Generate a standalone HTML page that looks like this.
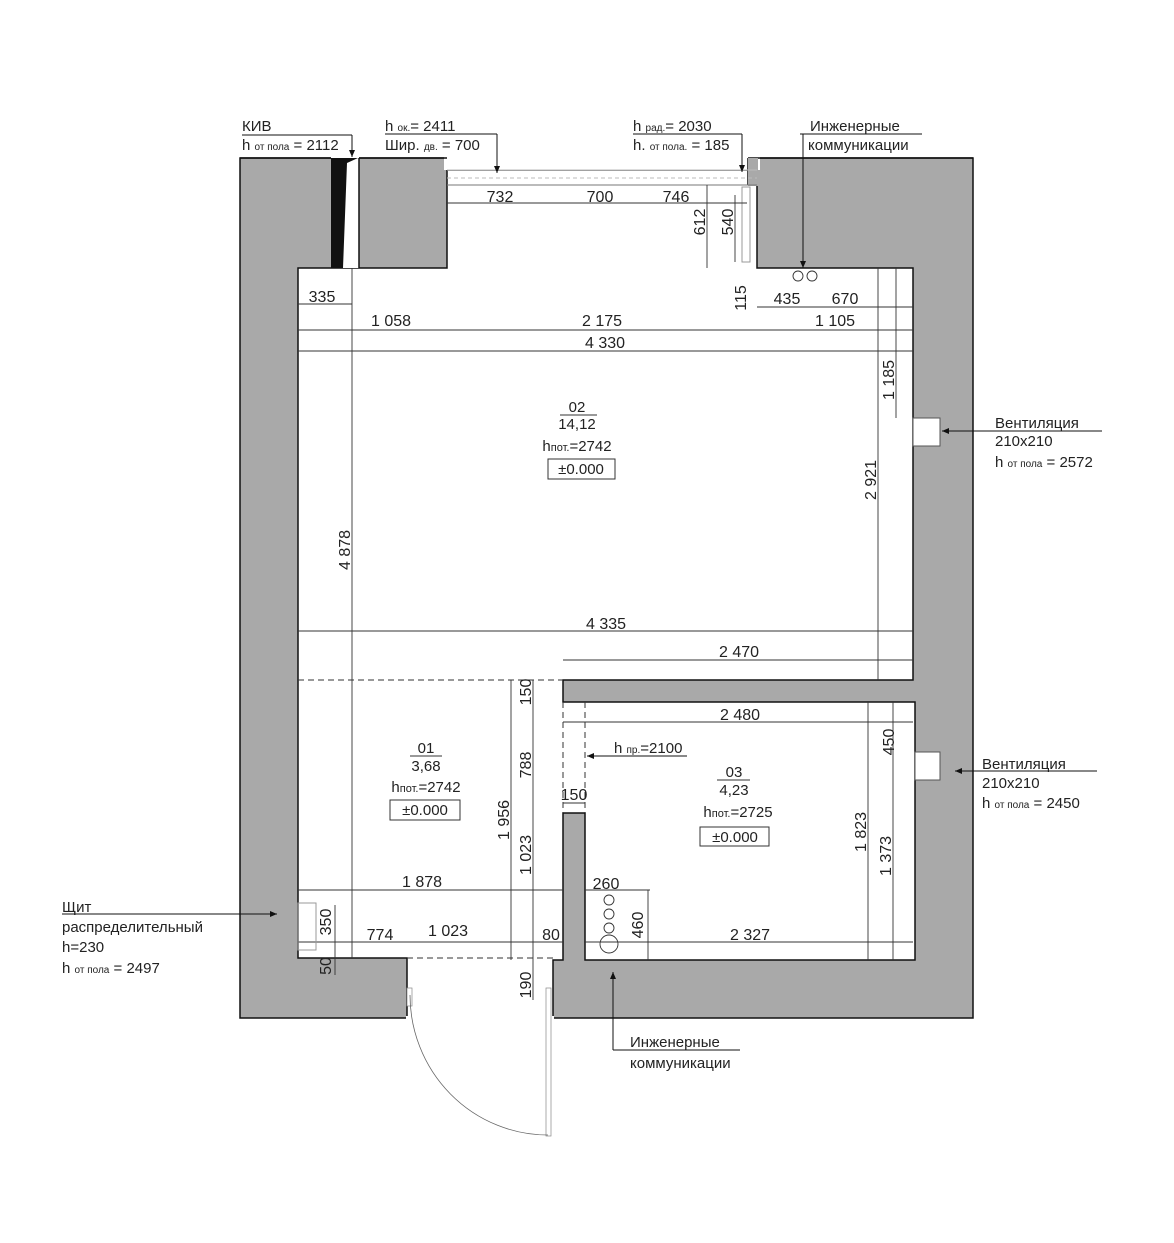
<!DOCTYPE html>
<html><head><meta charset="utf-8"><style>
html,body{margin:0;padding:0;background:#fff;}
svg{display:block;}
text{font-family:"Liberation Sans",sans-serif;fill:#222;}
.d{font-size:16px;text-anchor:middle;}
.l{font-size:15px;}
.s{font-size:10px;}
.dl{stroke:#333;stroke-width:0.9;fill:none;}
</style></head><body>
<svg width="1174" height="1243" viewBox="0 0 1174 1243" xmlns="http://www.w3.org/2000/svg">
<defs><marker id="ar" markerWidth="8" markerHeight="8" refX="7" refY="4" orient="auto"><path d="M0,1 L7,4 L0,7 z" fill="#111"/></marker></defs>
<!-- walls -->
<rect x="240" y="158" width="733" height="860" fill="#a9a9a9" stroke="#111" stroke-width="1.5"/>
<path d="M298,268 L447,268 L447,170 L757,170 L757,268 L913,268 L913,680 L563,680 L563,702 L915,702 L915,960 L585,960 L585,813 L563,813 L563,960 L553,960 L553,1020 L407,1020 L407,958 L298,958 Z" fill="#fff" stroke="#111" stroke-width="1.5"/>
<rect x="444" y="150" width="316" height="20" fill="#fff"/>
<rect x="406" y="1016" width="148" height="6" fill="#fff"/>
<!-- KIV shaft -->
<rect x="331" y="157" width="28" height="111" fill="#fff"/>
<path d="M331,158 L358,158 L347,163 L343,268 L331,268 Z" fill="#111"/>
<line x1="240" y1="158" x2="331" y2="158" stroke="#111" stroke-width="1.5"/>
<line x1="359" y1="158" x2="447" y2="158" stroke="#111" stroke-width="1.5"/>
<line x1="359" y1="158" x2="359" y2="268" stroke="#111" stroke-width="1.5"/>
<line x1="748" y1="158" x2="973" y2="158" stroke="#111" stroke-width="1.5"/>
<line x1="748" y1="158" x2="748" y2="185" stroke="#111" stroke-width="1.5"/>
<rect x="748" y="158" width="10" height="28" fill="#a9a9a9"/>
<!-- window -->
<line x1="447" y1="170" x2="757" y2="170" stroke="#bbb"/>
<line x1="447" y1="185" x2="757" y2="185" stroke="#777"/>
<line x1="447" y1="178" x2="757" y2="178" stroke="#bbb" stroke-dasharray="4 3"/>
<rect x="742" y="187" width="8" height="75" fill="none" stroke="#999"/>
<!-- vent niches -->
<rect x="913" y="418" width="27" height="28" fill="#fff" stroke="#555"/>
<rect x="915" y="752" width="25" height="28" fill="#fff" stroke="#555"/>
<!-- dashed lines -->
<line x1="298" y1="680" x2="563" y2="680" stroke="#333" stroke-dasharray="6 4"/>
<line x1="407" y1="958" x2="553" y2="958" stroke="#333" stroke-dasharray="6 4"/>
<line x1="563" y1="702" x2="563" y2="813" stroke="#333" stroke-dasharray="6 4"/>
<line x1="585" y1="702" x2="585" y2="813" stroke="#333" stroke-dasharray="6 4"/>
<!-- door -->
<rect x="407" y="988" width="5" height="18" fill="#fff" stroke="#888" stroke-width="0.7"/>
<rect x="546" y="988" width="5" height="148" fill="#fff" stroke="#888" stroke-width="0.7"/>
<path d="M410,995 A138,140 0 0 0 548,1135" fill="none" stroke="#666" stroke-width="0.8"/>
<!-- dimension lines -->
<g class="dl">
<line x1="447" y1="203" x2="747" y2="203"/>
<line x1="707" y1="185" x2="707" y2="268"/>
<line x1="735" y1="195" x2="735" y2="262"/>
<line x1="298" y1="304" x2="352" y2="304"/>
<line x1="757" y1="307" x2="913" y2="307"/>
<line x1="298" y1="330" x2="913" y2="330"/>
<line x1="298" y1="351" x2="913" y2="351"/>
<line x1="352" y1="268" x2="352" y2="958"/>
<line x1="896" y1="268" x2="896" y2="418"/>
<line x1="878" y1="268" x2="878" y2="680"/>
<line x1="298" y1="631" x2="913" y2="631"/>
<line x1="563" y1="660" x2="913" y2="660"/>
<line x1="563" y1="722" x2="913" y2="722"/>
<line x1="893" y1="702" x2="893" y2="960"/>
<line x1="868" y1="702" x2="868" y2="960"/>
<line x1="563" y1="803" x2="585" y2="803"/>
<line x1="533" y1="680" x2="533" y2="1000"/>
<line x1="511" y1="680" x2="511" y2="960"/>
<line x1="298" y1="890" x2="563" y2="890"/>
<line x1="298" y1="942" x2="563" y2="942"/>
<line x1="335" y1="905" x2="335" y2="975"/>
<line x1="585" y1="890" x2="650" y2="890"/>
<line x1="648" y1="890" x2="648" y2="960"/>
<line x1="585" y1="942" x2="913" y2="942"/>
</g>
<rect x="298" y="903" width="18" height="47" fill="none" stroke="#999"/>
<!-- circles -->
<g fill="none" stroke="#333" stroke-width="0.9">
<circle cx="798" cy="276" r="5"/><circle cx="812" cy="276" r="5"/>
<circle cx="609" cy="900" r="5"/><circle cx="609" cy="914" r="5"/><circle cx="609" cy="928" r="5"/><circle cx="609" cy="944" r="9"/>
</g>
<!-- dim texts -->
<g class="d">
<text x="500" y="202">732</text><text x="600" y="202">700</text><text x="676" y="202">746</text>
<text transform="translate(705,222) rotate(-90)">612</text>
<text transform="translate(733,222) rotate(-90)">540</text>
<text x="322" y="302">335</text>
<text transform="translate(746,298) rotate(-90)">115</text>
<text x="787" y="304">435</text><text x="845" y="304">670</text>
<text x="391" y="326">1 058</text><text x="602" y="326">2 175</text><text x="835" y="326">1 105</text>
<text x="605" y="348">4 330</text>
<text transform="translate(350,550) rotate(-90)">4 878</text>
<text transform="translate(894,380) rotate(-90)">1 185</text>
<text transform="translate(876,480) rotate(-90)">2 921</text>
<text x="606" y="629">4 335</text>
<text x="739" y="657">2 470</text>
<text x="740" y="720">2 480</text>
<text transform="translate(894,742) rotate(-90)">450</text>
<text transform="translate(866,832) rotate(-90)">1 823</text>
<text transform="translate(891,856) rotate(-90)">1 373</text>
<text x="574" y="800">150</text>
<text transform="translate(531,692) rotate(-90)">150</text>
<text transform="translate(531,765) rotate(-90)">788</text>
<text transform="translate(531,855) rotate(-90)">1 023</text>
<text transform="translate(509,820) rotate(-90)">1 956</text>
<text transform="translate(531,985) rotate(-90)">190</text>
<text x="422" y="887">1 878</text>
<text x="380" y="940">774</text><text x="448" y="936">1 023</text><text x="551" y="940">80</text>
<text transform="translate(331,922) rotate(-90)">350</text>
<text transform="translate(331,966) rotate(-90)">50</text>
<text x="606" y="889">260</text>
<text transform="translate(643,925) rotate(-90)">460</text>
<text x="750" y="940">2 327</text>
</g>
<!-- room labels -->
<g class="d" style="font-size:15px">
<text x="577" y="412">02</text><line x1="560" y1="415" x2="597" y2="415" stroke="#333"/>
<text x="577" y="429">14,12</text>
<text x="577" y="451">h<tspan font-size="11">пот.</tspan>=2742</text>
<rect x="548" y="459" width="67" height="20" fill="none" stroke="#333"/><text x="581" y="474">±0.000</text>
<text x="426" y="753">01</text><line x1="410" y1="756" x2="442" y2="756" stroke="#333"/>
<text x="426" y="771">3,68</text>
<text x="426" y="792">h<tspan font-size="11">пот.</tspan>=2742</text>
<rect x="390" y="800" width="70" height="20" fill="none" stroke="#333"/><text x="425" y="815">±0.000</text>
<text x="734" y="777">03</text><line x1="717" y1="780" x2="750" y2="780" stroke="#333"/>
<text x="734" y="795">4,23</text>
<text x="738" y="817">h<tspan font-size="11">пот.</tspan>=2725</text>
<rect x="700" y="827" width="69" height="19" fill="none" stroke="#333"/><text x="735" y="842">±0.000</text>
</g>
<!-- leaders -->
<g stroke="#111" stroke-width="1" fill="none">
<line x1="242" y1="135" x2="352" y2="135"/><line x1="352" y1="135" x2="352" y2="157" marker-end="url(#ar)"/>
<line x1="385" y1="134" x2="497" y2="134"/><line x1="497" y1="134" x2="497" y2="173" marker-end="url(#ar)"/>
<line x1="633" y1="134" x2="742" y2="134"/><line x1="742" y1="134" x2="742" y2="172" marker-end="url(#ar)"/>
<line x1="800" y1="134" x2="922" y2="134"/><line x1="803" y1="134" x2="803" y2="268" marker-end="url(#ar)"/>
<line x1="1102" y1="431" x2="942" y2="431" marker-end="url(#ar)"/>
<line x1="1097" y1="771" x2="955" y2="771" marker-end="url(#ar)"/>
<line x1="62" y1="914" x2="277" y2="914" marker-end="url(#ar)"/>
<line x1="613" y1="1050" x2="740" y2="1050"/><line x1="613" y1="1050" x2="613" y2="972" marker-end="url(#ar)"/>
<line x1="687" y1="756" x2="587" y2="756" marker-end="url(#ar)"/>
</g>
<g class="l">
<text x="242" y="131">КИВ</text>
<text x="242" y="150">h <tspan class="s">от пола</tspan> = 2112</text>
<text x="385" y="131">h <tspan class="s">ок.</tspan>= 2411</text>
<text x="385" y="150">Шир. <tspan class="s">дв.</tspan> = 700</text>
<text x="633" y="131">h <tspan class="s">рад.</tspan>= 2030</text>
<text x="633" y="150">h. <tspan class="s">от пола.</tspan> = 185</text>
<text x="810" y="131">Инженерные</text>
<text x="808" y="150">коммуникации</text>
<text x="995" y="428">Вентиляция</text>
<text x="995" y="446">210x210</text>
<text x="995" y="467">h <tspan class="s">от пола</tspan> = 2572</text>
<text x="982" y="769">Вентиляция</text>
<text x="982" y="788">210x210</text>
<text x="982" y="808">h <tspan class="s">от пола</tspan> = 2450</text>
<text x="62" y="912">Щит</text>
<text x="62" y="932">распределительный</text>
<text x="62" y="952">h=230</text>
<text x="62" y="973">h <tspan class="s">от пола</tspan> = 2497</text>
<text x="630" y="1047">Инженерные</text>
<text x="630" y="1068">коммуникации</text>
<text x="614" y="753">h <tspan class="s">пр.</tspan>=2100</text>
</g>
</svg>
</body></html>
